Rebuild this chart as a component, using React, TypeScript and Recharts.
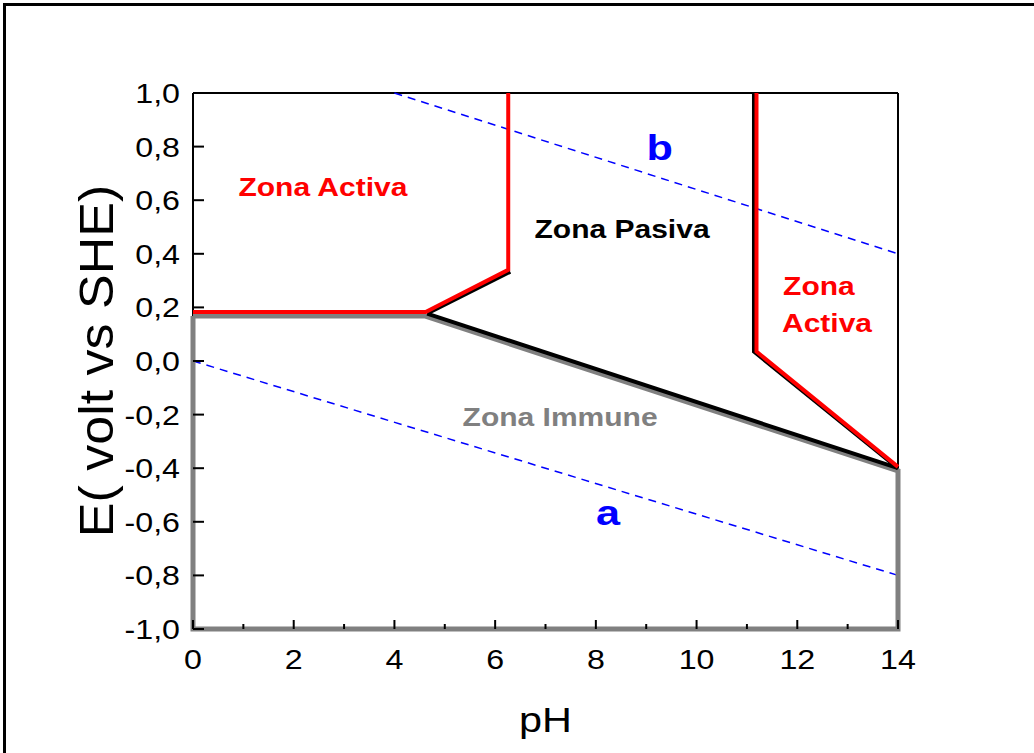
import React from 'react';
import { LineChart, Line, XAxis, YAxis, ReferenceDot } from 'recharts';

const phTicks = [0, 1, 2, 3, 4, 5, 6, 7, 8, 9, 10, 11, 12, 13, 14];
const phLabels = [0, 2, 4, 6, 8, 10, 12, 14];
const eTicks = [-1, -0.8, -0.6, -0.4, -0.2, 0, 0.2, 0.4, 0.6, 0.8, 1];

const waterA = [{ x: 0, y: 0 }, { x: 14, y: -0.8 }];
const waterB = [{ x: 4, y: 1 }, { x: 14, y: 0.4 }];
const immune = [
  { x: 0, y: 0.168 }, { x: 4.6, y: 0.168 }, { x: 14, y: -0.41 },
  { x: 14, y: -1 }, { x: 0, y: -1 }, { x: 0, y: 0.168 },
];
const passiveKink = [{ x: 4.65, y: 0.177 }, { x: 6.3, y: 0.333 }];
const passiveLower = [{ x: 4.65, y: 0.177 }, { x: 14, y: -0.4 }];
const passiveRight = [{ x: 11.14, y: 1 }, { x: 11.14, y: 0.035 }, { x: 14, y: -0.4 }];
const activeLeft = [{ x: 0, y: 0.183 }, { x: 4.62, y: 0.183 }, { x: 6.26, y: 0.34 }, { x: 6.26, y: 1 }];
const activeRight = [{ x: 11.19, y: 1 }, { x: 11.19, y: 0.035 }, { x: 14, y: -0.395 }];

const zoneLabels = [
  { x: 2.58, y: 0.649, text: 'Zona Activa', color: '#ff0000', size: 25 },
  { x: 8.52, y: 0.493, text: 'Zona Pasiva', color: '#000000', size: 25 },
  { x: 12.43, y: 0.28, text: 'Zona', color: '#ff0000', size: 25 },
  { x: 12.59, y: 0.142, text: 'Activa', color: '#ff0000', size: 25 },
  { x: 7.29, y: -0.209, text: 'Zona Immune', color: '#808080', size: 25 },
  { x: 8.24, y: -0.563, text: 'a', color: '#0000ff', size: 36 },
  { x: 9.27, y: 0.799, text: 'b', color: '#0000ff', size: 36 },
];

const FONT = 'Arial, "Liberation Sans", sans-serif';
const SX = 1.15;

const fmtE = (v: number) => v.toFixed(1).replace('.', ',');

const BottomTick = (p: any) => {
  const v = p.payload.value;
  const major = phLabels.includes(v);
  return (
    <g>
      <line x1={p.x} y1={p.y} x2={p.x} y2={p.y - (major ? 9 : 5)} stroke="#000" strokeWidth={2} />
      {major && (
        <text transform={`translate(${p.x},${p.y + 40}) scale(${SX},1)`} textAnchor="middle"
          fontFamily={FONT} fontSize={28} fill="#000">{v}</text>
      )}
    </g>
  );
};

const TopTick = (p: any) => {
  const v = p.payload.value;
  const major = phLabels.includes(v);
  return <line x1={p.x} y1={p.y} x2={p.x} y2={p.y + (major ? 10 : 6)} stroke="#000" strokeWidth={2} />;
};

const LeftTick = (p: any) => {
  const v = p.payload.value;
  return (
    <g>
      <line x1={p.x} y1={p.y} x2={p.x + 11} y2={p.y} stroke="#000" strokeWidth={2} />
      <text transform={`translate(${p.x - 13},${p.y}) scale(${SX},1)`} textAnchor="end" dy="0.36em"
        fontFamily={FONT} fontSize={28} fill="#000">{fmtE(v)}</text>
    </g>
  );
};

const RightTick = (p: any) => (
  <line x1={p.x} y1={p.y} x2={p.x - 11} y2={p.y} stroke="#000" strokeWidth={2} />
);

const PhTitle = (p: any) => {
  const vb = p.viewBox;
  return (
    <text transform={`translate(${vb.x + vb.width / 2},${vb.y + 103}) scale(${SX},1)`} textAnchor="middle"
      fontFamily={FONT} fontSize={36} fill="#000">pH</text>
  );
};

const ETitle = (p: any) => {
  const vb = p.viewBox;
  return (
    <text transform={`translate(${vb.x + vb.width - 97},${vb.y + vb.height / 2}) scale(0.93,1) rotate(-90)`} textAnchor="middle"
      dy="0.36em" fontFamily={FONT} fontSize={52} fill="#000">E( volt vs SHE)</text>
  );
};

const zoneContent = (z: any) => (p: any) => {
  const vb = p.viewBox;
  const cx = vb.x + (vb.width || 0) / 2;
  const cy = vb.y + (vb.height || 0) / 2;
  return (
    <text transform={`translate(${cx},${cy}) scale(1.2,1)`} textAnchor="middle" dy="0.36em"
      fontFamily={FONT} fontWeight="bold" fontSize={z.size} fill={z.color}>{z.text}</text>
  );
};

export default function App() {
  const common: any = { xAxisId: 'b', yAxisId: 'l', dataKey: 'y', dot: false, activeDot: false, isAnimationActive: false, type: 'linear', zIndex: 1000 };
  return (
    <div style={{ position: 'absolute', left: 0, top: 0, width: 1034, height: 753, overflow: 'hidden', background: '#fff' }}>
      <div style={{ position: 'absolute', left: 3, top: 3, width: 1031, height: 750, borderTop: '3px solid #000', borderLeft: '3px solid #000', boxSizing: 'border-box' }} />
      <div style={{ position: 'absolute', left: 0, top: 0 }}>
        <LineChart width={1034} height={753} margin={{ top: 92, right: 135, bottom: 123, left: 192 }}>
          <XAxis xAxisId="b" dataKey="x" type="number" domain={[0, 14]} ticks={phTicks} interval={0}
            orientation="bottom" height={1} tickSize={0} tickMargin={0} tickLine={false}
            axisLine={{ stroke: '#000', strokeWidth: 2 }} tick={(p: any) => <BottomTick {...p} />}
            label={{ content: PhTitle }} />
          <XAxis xAxisId="t" dataKey="x" type="number" domain={[0, 14]} ticks={phTicks} interval={0}
            orientation="top" height={1} tickSize={0} tickMargin={0} tickLine={false}
            axisLine={{ stroke: '#000', strokeWidth: 2 }} tick={(p: any) => <TopTick {...p} />} />
          <YAxis yAxisId="l" type="number" domain={[-1, 1]} ticks={eTicks} interval={0}
            orientation="left" width={1} tickSize={0} tickMargin={0} tickLine={false}
            axisLine={{ stroke: '#000', strokeWidth: 2 }} tick={(p: any) => <LeftTick {...p} />}
            label={{ content: ETitle }} />
          <YAxis yAxisId="r" type="number" domain={[-1, 1]} ticks={eTicks} interval={0}
            orientation="right" width={1} tickSize={0} tickMargin={0} tickLine={false}
            axisLine={{ stroke: '#000', strokeWidth: 2 }} tick={(p: any) => <RightTick {...p} />} />

          <Line {...common} data={waterA} stroke="#0000ff" strokeWidth={1.5} strokeDasharray="8 6" />
          <Line {...common} data={waterB} stroke="#0000ff" strokeWidth={1.5} strokeDasharray="8 6" />
          <Line {...common} data={immune} stroke="#808080" strokeWidth={5} />
          <Line {...common} data={passiveKink} stroke="#000" strokeWidth={4} />
          <Line {...common} data={passiveLower} stroke="#000" strokeWidth={4} />
          <Line {...common} data={passiveRight} stroke="#000" strokeWidth={4} />
          <Line {...common} data={activeLeft} stroke="#ff0000" strokeWidth={4} />
          <Line {...common} data={activeRight} stroke="#ff0000" strokeWidth={4} />

          {zoneLabels.map((z) => (
            <ReferenceDot key={z.text} xAxisId="b" yAxisId="l" x={z.x} y={z.y} r={0.5}
              fill="none" stroke="none" label={{ content: zoneContent(z) }} />
          ))}
        </LineChart>
      </div>
    </div>
  );
}
